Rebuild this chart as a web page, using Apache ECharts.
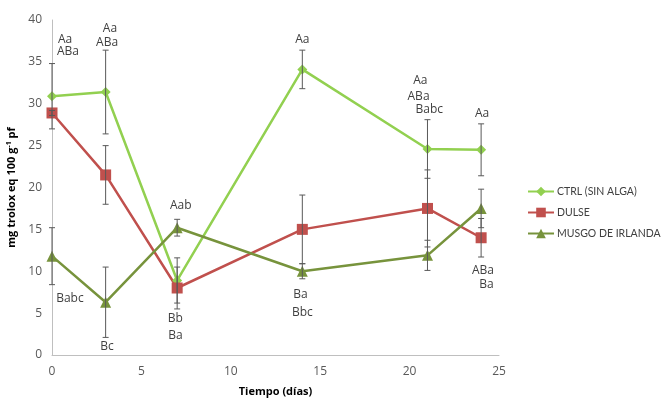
<!DOCTYPE html>
<html>
<head>
<meta charset="utf-8">
<script src="https://cdn.jsdelivr.net/npm/echarts@6/dist/echarts.min.js"></script>
<style>
  html, body { margin: 0; padding: 0; background: #fff; }
  #chart { width: 662px; height: 398px; }
</style>
</head>
<body>
<div id="chart"></div>
<script>
// Sampling days
const days = [0, 3, 7, 14, 21, 24];

// Antioxidant capacity (mg trolox eq 100 g-1 pf) and standard deviations
const ctrlValues = [30.9, 31.4, 8.9, 34.1, 24.6, 24.5];
const ctrlErrors = [3.9, 5.0, 2.7, 2.3, 3.5, 3.1];
const dulseValues = [28.9, 21.5, 8.0, 15.0, 17.5, 14.0];
const dulseErrors = [0.3, 3.5, 2.5, 4.1, 4.6, 2.3];
const musgoValues = [11.8, 6.3, 15.2, 10.0, 11.9, 17.5];
const musgoErrors = [3.4, 4.2, 1.0, 0.9, 1.8, 2.3];

const seriesNames = ['CTRL (SIN ALGA)', 'DULSE', 'MUSGO DE IRLANDA'];

// Significance letters, placed in data coordinates [day, value, text]
const letters = [
  [0.73, 37.7, 'Aa'], [0.89, 36.2, 'ABa'],
  [3.24, 39.0, 'Aa'], [3.08, 37.25, 'ABa'],
  [1.0, 6.7, 'Babc'],
  [3.08, 0.96, 'Bc'],
  [7.2, 17.9, 'Aab'],
  [6.9, 4.4, 'Bb'], [6.9, 2.3, 'Ba'],
  [14.0, 37.7, 'Aa'],
  [13.9, 7.2, 'Ba'], [14.0, 5.1, 'Bbc'],
  [20.6, 32.8, 'Aa'], [20.5, 30.9, 'ABa'], [21.1, 29.3, 'Babc'],
  [24.05, 28.8, 'Aa'],
  [24.1, 10.1, 'ABa'], [24.3, 8.4, 'Ba']
];

const FONT = 'Open Sans';
const chart = echarts.init(document.getElementById('chart'), null, { renderer: 'canvas' });

function pairs(values) {
  return days.map((d, i) => [d, values[i]]);
}
function errorData(values, errors) {
  return days.map((d, i) => [d, values[i] - errors[i], values[i] + errors[i]]);
}

function renderErrorBar(params, api) {
  const x = api.value(0);
  const top = api.coord([x, api.value(2)]);
  const bottom = api.coord([x, api.value(1)]);
  const half = 3;
  const style = { stroke: '#595959', lineWidth: 1 };
  return {
    type: 'group',
    children: [
      { type: 'line', shape: { x1: top[0], y1: top[1], x2: bottom[0], y2: bottom[1] }, style },
      { type: 'line', shape: { x1: top[0] - half, y1: top[1], x2: top[0] + half, y2: top[1] }, style },
      { type: 'line', shape: { x1: bottom[0] - half, y1: bottom[1], x2: bottom[0] + half, y2: bottom[1] }, style }
    ]
  };
}

function renderLetter(params, api) {
  const p = api.coord([api.value(0), api.value(1)]);
  return {
    type: 'text',
    x: p[0], y: p[1],
    style: {
      text: letters[params.dataIndex][2],
      fill: '#404040',
      font: '12px "' + FONT + '"',
      align: 'center',
      verticalAlign: 'middle'
    }
  };
}

function lineSeries(name, values, color, symbol, size) {
  return {
    name, type: 'line', data: pairs(values),
    symbol, symbolSize: size,
    itemStyle: { color },
    lineStyle: { color, width: 2.5 },
    z: 2
  };
}

function errorSeries(values, errors) {
  return {
    type: 'custom', renderItem: renderErrorBar,
    data: errorData(values, errors), z: 3, silent: true
  };
}

chart.setOption({
  animation: false,
  backgroundColor: '#ffffff',
  textStyle: { fontFamily: FONT },
  grid: { left: 52, right: 163, top: 20, bottom: 43, containLabel: false, outerBoundsMode: 'none' },
  legend: {
    data: seriesNames,
    orient: 'vertical',
    left: 522, top: 181,
    itemWidth: 26, itemHeight: 12, itemGap: 10,
    textStyle: { color: '#404040', fontSize: 10.5, fontFamily: 'Lato', padding: [0, 0, 0, -2] }
  },
  xAxis: {
    type: 'value', min: 0, max: 25, interval: 5,
    name: 'Tiempo (días)', nameLocation: 'middle', nameGap: 31,
    nameTextStyle: { fontWeight: 'bold', fontSize: 11, color: '#000', fontFamily: FONT },
    axisLine: { lineStyle: { color: '#bfbfbf' } },
    axisTick: { show: false },
    axisLabel: { color: '#595959', fontSize: 12, margin: 11 },
    splitLine: { show: false }
  },
  yAxis: {
    type: 'value', min: 0, max: 40, interval: 5,
    name: '{a|mg trolox eq 100 g}{s|-1}{a| pf}', nameLocation: 'middle', nameGap: 31,
    nameTextStyle: {
      fontWeight: 'bold', fontSize: 11, color: '#000', fontFamily: FONT,
      rich: {
        a: { fontWeight: 'bold', fontSize: 11, color: '#000', fontFamily: FONT },
        s: { fontWeight: 'bold', fontSize: 7, color: '#000', fontFamily: FONT, padding: [0, 0, 6, 0] }
      }
    },
    axisLine: { show: true, lineStyle: { color: '#bfbfbf' } },
    axisTick: { show: false },
    axisLabel: { color: '#595959', fontSize: 12, margin: 10 },
    splitLine: { show: false }
  },
  series: [
    lineSeries(seriesNames[0], ctrlValues, '#92D050', 'diamond', 10),
    lineSeries(seriesNames[1], dulseValues, '#C0504D', 'rect', 11),
    lineSeries(seriesNames[2], musgoValues, '#77933C', 'triangle', 11),
    errorSeries(ctrlValues, ctrlErrors),
    errorSeries(dulseValues, dulseErrors),
    errorSeries(musgoValues, musgoErrors),
    {
      type: 'custom', renderItem: renderLetter,
      data: letters.map(l => [l[0], l[1]]), z: 4, silent: true
    }
  ]
});
</script>
</body>
</html>
